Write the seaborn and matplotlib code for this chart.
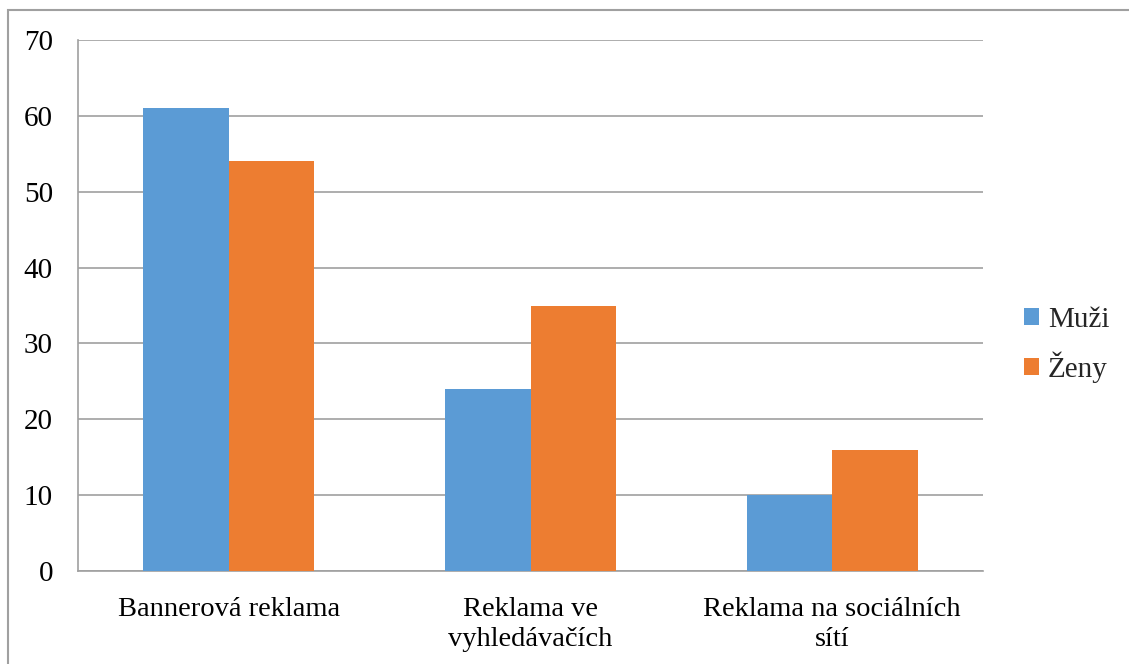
import matplotlib
matplotlib.use("Agg")
import matplotlib.pyplot as plt
from matplotlib.patches import Rectangle
import seaborn as sns
import pandas as pd

categories = ["Bannerová reklama", "Reklama ve\nvyhledávačích", "Reklama na sociálních\nsítí"]
series_names = ["Muži", "Ženy"]
muzi = [61, 24, 10]
zeny = [54, 35, 16]
y_ticks = [0, 10, 20, 30, 40, 50, 60, 70]

colors = ["#5B9BD5", "#ED7D31"]
grid_color = "#A0A0A0"

sns.set_theme(style="white")
plt.rcParams["font.family"] = ["Liberation Serif", "DejaVu Serif"]

df = pd.DataFrame({
    "kategorie": categories * 2,
    "pohlaví": [series_names[0]] * 3 + [series_names[1]] * 3,
    "hodnota": muzi + zeny,
})

fig = plt.figure(figsize=(11.29, 6.64), dpi=100)
ax = fig.add_axes([78 / 1129, 1 - 571 / 664, (983 - 78) / 1129, (571 - 40) / 664])

sns.barplot(data=df, x="kategorie", y="hodnota", hue="pohlaví",
            palette=colors, width=0.567, gap=0, saturation=1,
            edgecolor="none", linewidth=0, ax=ax, legend=False, zorder=3)

ax.set_xlim(-0.5, 2.5)
ax.set_ylim(0, 70)
ax.set_yticks(y_ticks)
ax.yaxis.grid(True, color=grid_color, linewidth=1.2, zorder=0)
ax.set_axisbelow(True)
ax.set_xlabel("")
ax.set_ylabel("")

for side in ["top", "right"]:
    ax.spines[side].set_visible(False)
for side in ["left", "bottom"]:
    ax.spines[side].set_color(grid_color)
    ax.spines[side].set_linewidth(1.2)

ax.tick_params(axis="y", which="major", length=6, width=1.2, color=grid_color,
               direction="out", pad=12, labelsize=21, labelcolor="black")
ax.tick_params(axis="x", which="major", length=0, pad=19, labelsize=20.5,
               labelcolor="black")
ax.set_xticks([-0.5, 0.5, 1.5, 2.5], minor=True)
ax.tick_params(axis="x", which="minor", length=7, width=1.2, color=grid_color,
               direction="out")
ax.set_xticks(range(len(categories)))
ax.set_xticklabels(categories, linespacing=1.25, ha="center")

handles = [Rectangle((0, 0), 1, 1, facecolor=c, edgecolor="none") for c in colors]
fig.legend(handles, series_names, loc="center left",
           bbox_to_anchor=(1024 / 1129, 1 - 345 / 664), frameon=False,
           borderaxespad=0, borderpad=0,
           fontsize=21, handlelength=0.52, handleheight=0.52,
           handletextpad=0.3, labelspacing=0.62)

fig.add_artist(Rectangle((8 / 1129, -0.05), 1.1, 1 - 10 / 664 + 0.05,
                         transform=fig.transFigure, fill=False,
                         edgecolor=grid_color, linewidth=1.5))

fig.savefig("out.png", dpi=100, facecolor="white")
